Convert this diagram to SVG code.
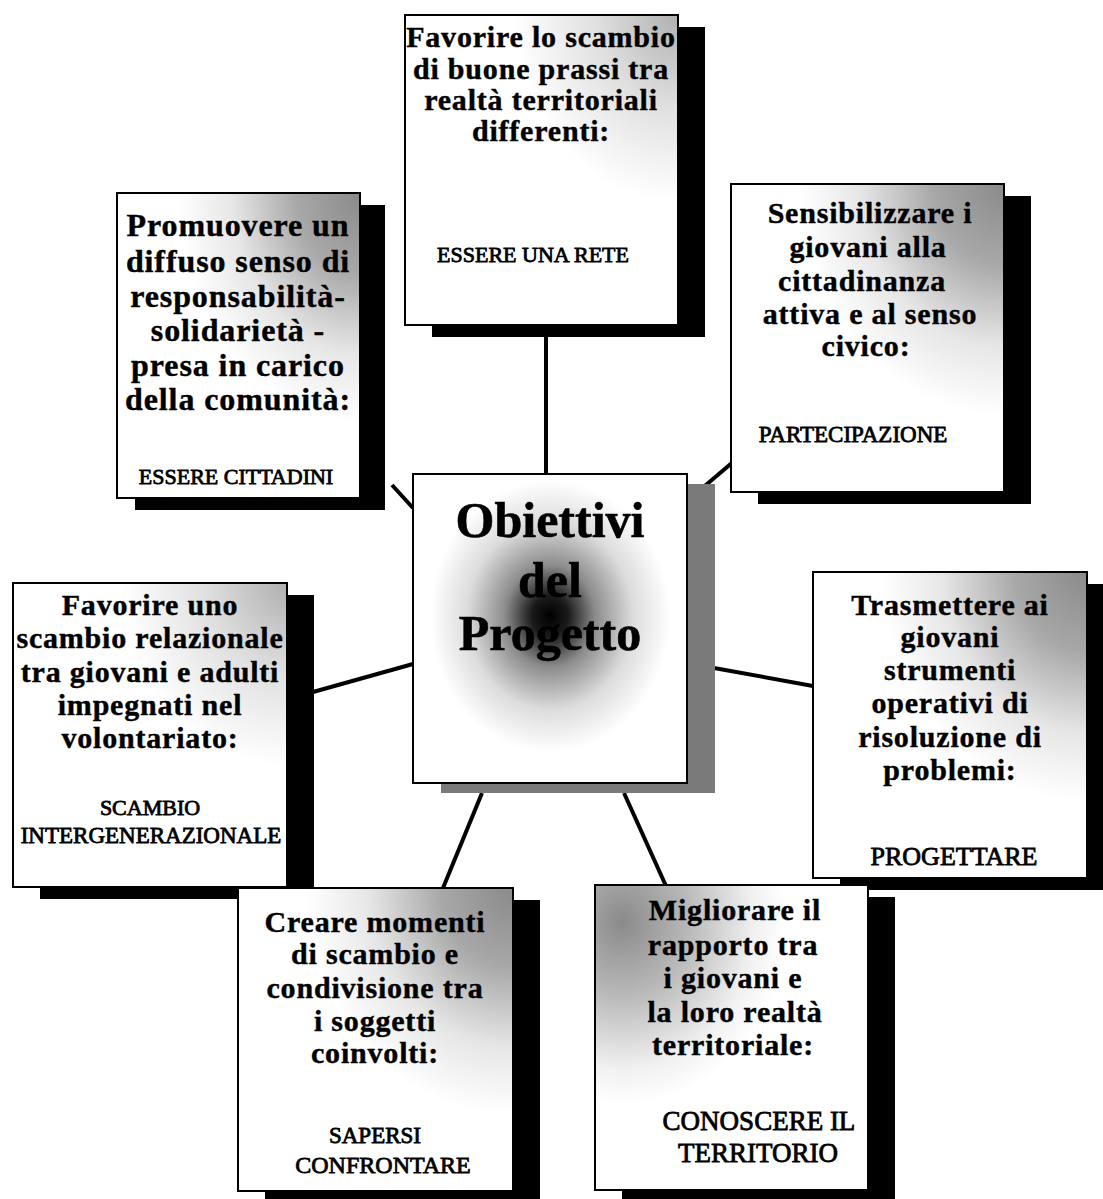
<svg xmlns="http://www.w3.org/2000/svg" width="1103" height="1199" viewBox="0 0 1103 1199">
<defs>
<radialGradient id="gTR" cx="1" cy="0" r="0.75" gradientUnits="objectBoundingBox">
<stop offset="0" stop-color="#8a8a8a"/>
<stop offset="0.35" stop-color="#a8a8a8"/>
<stop offset="0.7" stop-color="#e6e6e6"/>
<stop offset="1" stop-color="#ffffff"/>
</radialGradient>
<radialGradient id="gTRl" cx="1" cy="0" r="0.6" gradientUnits="objectBoundingBox">
<stop offset="0" stop-color="#b0b0b0"/>
<stop offset="0.5" stop-color="#e0e0e0"/>
<stop offset="1" stop-color="#ffffff"/>
</radialGradient>
<radialGradient id="gTL" cx="0.1" cy="0.12" r="0.6" gradientUnits="objectBoundingBox">
<stop offset="0" stop-color="#8a8a8a"/>
<stop offset="0.4" stop-color="#b8b8b8"/>
<stop offset="0.8" stop-color="#f0f0f0"/>
<stop offset="1" stop-color="#ffffff"/>
</radialGradient>
<radialGradient id="gC" cx="0.5" cy="0.46" r="0.55" gradientUnits="objectBoundingBox">
<stop offset="0" stop-color="#000000"/>
<stop offset="0.12" stop-color="#1a1a1a"/>
<stop offset="0.3" stop-color="#8c8c8c"/>
<stop offset="0.55" stop-color="#dcdcdc"/>
<stop offset="0.8" stop-color="#ffffff"/>
</radialGradient>
</defs>
<style>
.box{stroke:#000;stroke-width:2}
.sh{fill:#000}
.shg{fill:#7a7a7a}
.h{font-family:"Liberation Serif","Times New Roman",serif;font-weight:bold;font-size:30px;letter-spacing:0.8px;fill:#000;stroke:#000;stroke-width:0.4;text-anchor:middle}
.h2{font-family:"Liberation Serif","Times New Roman",serif;font-weight:bold;font-size:32px;letter-spacing:0.9px;fill:#000;stroke:#000;stroke-width:0.4;text-anchor:middle}
.s{font-family:"Liberation Serif","Times New Roman",serif;font-size:22px;fill:#000;stroke:#000;stroke-width:0.8;text-anchor:middle}
.c{font-family:"Liberation Serif","Times New Roman",serif;font-weight:bold;font-size:50px;fill:#000;stroke:#000;stroke-width:0.6;text-anchor:middle}
.ln{stroke:#000;stroke-width:4;fill:none}
</style>
<g id="connectors">
<line class="ln" x1="546" y1="337" x2="546" y2="475"/>
<line class="ln" x1="392" y1="485" x2="413" y2="508"/>
<line class="ln" x1="700" y1="490" x2="733" y2="462"/>
<line class="ln" x1="313" y1="692" x2="413" y2="664"/>
<line class="ln" x1="714" y1="668" x2="813" y2="686"/>
<line class="ln" x1="482" y1="793" x2="443" y2="888"/>
<line class="ln" x1="624" y1="793" x2="666" y2="886"/>
</g>
<g id="node-rete">
<rect class="sh" x="432" y="27" width="273" height="310"/>
<rect class="box" x="405" y="15" width="273" height="310" fill="url(#gTRl)"/>
<text class="h" x="541" y="47">Favorire lo scambio</text>
<text class="h" x="541" y="79">di buone prassi tra</text>
<text class="h" x="541" y="110">realtà territoriali</text>
<text class="h" x="541" y="141">differenti:</text>
<text class="s" x="533" y="262">ESSERE UNA RETE</text>
</g>
<g id="node-cittadini">
<rect class="sh" x="135" y="205" width="250" height="305"/>
<rect class="box" x="117" y="193" width="243" height="305" fill="url(#gTR)"/>
<text class="h2" x="238" y="236">Promuovere un</text>
<text class="h2" x="238" y="272">diffuso senso di</text>
<text class="h2" x="238" y="307">responsabilità-</text>
<text class="h2" x="238" y="341">solidarietà -</text>
<text class="h2" x="238" y="376">presa in carico</text>
<text class="h2" x="238" y="410">della comunità:</text>
<text class="s" x="236" y="484">ESSERE CITTADINI</text>
</g>
<g id="node-partecipazione">
<rect class="sh" x="758" y="196" width="273" height="308"/>
<rect class="box" x="731" y="184" width="273" height="308" fill="url(#gTR)"/>
<text class="h" x="870" y="223">Sensibilizzare i</text>
<text class="h" x="868" y="257">giovani alla</text>
<text class="h" x="862" y="291">cittadinanza</text>
<text class="h" x="870" y="324">attiva e al senso</text>
<text class="h" x="866" y="356">civico:</text>
<text class="s" x="853" y="442" style="font-size:23px">PARTECIPAZIONE</text>
</g>
<g id="node-centro">
<rect class="shg" x="441" y="484" width="274" height="309"/>
<rect class="box" x="413" y="474" width="274" height="309" fill="url(#gC)"/>
<text class="c" x="550" y="537">Obiettivi</text>
<text class="c" x="550" y="597">del</text>
<text class="c" x="550" y="650">Progetto</text>
</g>
<g id="node-scambio">
<rect class="sh" x="40" y="595" width="274" height="304"/>
<rect class="box" x="13" y="583" width="274" height="304" fill="url(#gTRl)"/>
<text class="h" x="150" y="615">Favorire uno</text>
<text class="h" x="150" y="648">scambio relazionale</text>
<text class="h" x="150" y="682">tra giovani e adulti</text>
<text class="h" x="150" y="715">impegnati nel</text>
<text class="h" x="150" y="748">volontariato:</text>
<text class="s" x="150" y="815">SCAMBIO</text>
<text class="s" x="151" y="843" style="font-size:23px">INTERGENERAZIONALE</text>
</g>
<g id="node-progettare">
<rect class="sh" x="840" y="584" width="274" height="306"/>
<rect class="box" x="813" y="572" width="274" height="306" fill="url(#gTR)"/>
<text class="h" x="950" y="615">Trasmettere ai</text>
<text class="h" x="950" y="647">giovani</text>
<text class="h" x="950" y="680">strumenti</text>
<text class="h" x="950" y="713">operativi di</text>
<text class="h" x="950" y="747">risoluzione di</text>
<text class="h" x="950" y="780">problemi:</text>
<text class="s" x="954" y="865" style="font-size:26px">PROGETTARE</text>
</g>
<g id="node-confrontare">
<rect class="sh" x="265" y="900" width="275" height="303"/>
<rect class="box" x="238" y="888" width="275" height="303" fill="url(#gTR)"/>
<text class="h" x="375" y="932">Creare momenti</text>
<text class="h" x="375" y="964">di scambio e</text>
<text class="h" x="375" y="998">condivisione tra</text>
<text class="h" x="375" y="1031">i soggetti</text>
<text class="h" x="375" y="1063">coinvolti:</text>
<text class="s" x="375" y="1143" style="font-size:23px">SAPERSI</text>
<text class="s" x="383" y="1173" style="font-size:24px">CONFRONTARE</text>
</g>
<g id="node-territorio">
<rect class="sh" x="622" y="897" width="273" height="305"/>
<rect class="box" x="595" y="885" width="273" height="305" fill="url(#gTL)"/>
<text class="h" x="735" y="920">Migliorare il</text>
<text class="h" x="733" y="955">rapporto tra</text>
<text class="h" x="733" y="988">i giovani e</text>
<text class="h" x="735" y="1022">la loro realtà</text>
<text class="h" x="733" y="1055">territoriale:</text>
<text class="s" x="759" y="1130" style="font-size:27px">CONOSCERE IL</text>
<text class="s" x="758" y="1162" style="font-size:27px">TERRITORIO</text>
</g>
</svg>
